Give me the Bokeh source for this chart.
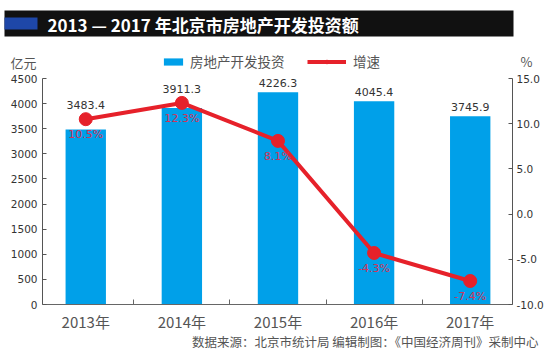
from bokeh.plotting import figure
from bokeh.models import (Range1d, LinearAxis, FixedTicker, Label, LabelSet, Legend,
                          LegendItem, ColumnDataSource, NumeralTickFormatter, BoxAnnotation)
from bokeh.core.properties import value
from bokeh.embed import file_html
from bokeh.resources import INLINE

# ---- data ----
years = ["2013年", "2014年", "2015年", "2016年", "2017年"]
investment = [3483.4, 3911.3, 4226.3, 4045.4, 3745.9]      # 亿元
growth = [10.5, 12.3, 8.1, -4.3, -7.4]                      # %
left_ticks = [0, 500, 1000, 1500, 2000, 2500, 3000, 3500, 4000, 4500]
right_ticks = [-10, -5, 0, 5, 10, 15]

title_text = "2013 — 2017 年北京市房地产开发投资额"
bar_name = "房地产开发投资"
line_name = "增速"
left_unit = "亿元"
right_unit = "%"
footer_text = "数据来源：北京市统计局 编辑制图：《中国经济周刊》采制中心"

# ---- styles / layout (pixels) ----
W, H = 550, 363
AX_L, AX_R = 42, 512          # x pixel of left / right axis
AX_T, AX_B = 78, 304          # y pixel (from top) of axis top / bottom
PAD_X = 0.45                  # category padding at each side
PAD_X2 = 0.44

BLUE = "#00a0e9"
RED = "#e6212a"
PCT_COLOR = "#d0345a"
CJK = "Noto Sans CJK SC"
NUM = "DejaVu Sans"

L_MIN, L_MAX = left_ticks[0], left_ticks[-1]
R_MIN, R_MAX = right_ticks[0], right_ticks[-1]
n = len(years)

# data-per-pixel scales so that the frame can cover the whole canvas
kx = ((n - 1 + PAD_X2) - (-PAD_X)) / (AX_R - AX_L)
ky = (L_MAX - L_MIN) / (AX_B - AX_T)
kr = (R_MAX - R_MIN) / (AX_B - AX_T)
x_rng = Range1d(-PAD_X - AX_L * kx, (n - 1 + PAD_X2) + (W - AX_R) * kx)
y_rng = Range1d(L_MIN - (H - AX_B) * ky, L_MAX + AX_T * ky)
r_rng = Range1d(R_MIN - (H - AX_B) * kr, R_MAX + AX_T * kr)

xs = list(range(n))
conv = [(g - R_MIN) / (R_MAX - R_MIN) * (L_MAX - L_MIN) + L_MIN for g in growth]
label_y = [max(v, c + 100) for v, c in zip(investment, conv)]

src = ColumnDataSource(dict(
    x=xs, inv=investment, gr=growth, ly=label_y,
    inv_txt=[f"{v:.1f}" for v in investment],
    gr_txt=[f"{g:.1f}%" for g in growth],
))

p = figure(width=W, height=H, output_backend="svg", toolbar_location=None,
           x_range=x_rng, y_range=y_rng,
           min_border_left=0, min_border_right=0, min_border_top=0, min_border_bottom=0)
p.extra_y_ranges = {"pct": r_rng}
p.outline_line_color = None
p.grid.visible = False
p.background_fill_color = "white"
p.border_fill_color = "white"

bars = p.vbar(x="x", top="inv", width=0.42, fill_color=BLUE, line_color=None, source=src)
line = p.line(x="x", y="gr", y_range_name="pct", line_color=RED, line_width=4, source=src)
dots = p.scatter(x="x", y="gr", y_range_name="pct", size=13, fill_color=RED,
                 line_color=RED, source=src)

# value labels
p.add_layout(LabelSet(x="x", y="ly", text="inv_txt", source=src, text_align="center",
                      text_baseline="bottom", y_offset=5, text_font=value(NUM),
                      text_font_size="11px", text_color="#333333"))
p.add_layout(LabelSet(x="x", y="gr", y_range_name="pct", text="gr_txt", source=src,
                      text_align="center", text_baseline="top", y_offset=-9,
                      text_font=value(NUM), text_font_size="11px", text_color=PCT_COLOR))

# axes (drawn at fixed data locations inside the full-canvas frame)
ya = p.yaxis[0]
ya.fixed_location = -PAD_X
ya.bounds = (L_MIN, L_MAX)
ya.ticker = FixedTicker(ticks=left_ticks)
ya.axis_line_color = "#555555"
ya.major_tick_line_color = "#555555"
ya.major_tick_in = 4
ya.major_tick_out = 0
ya.minor_tick_line_color = None
ya.major_label_standoff = 5
ya.major_label_text_font = NUM
ya.major_label_text_font_size = "10.5px"
ya.major_label_text_color = "#333333"

ra = LinearAxis(y_range_name="pct", ticker=FixedTicker(ticks=right_ticks),
                formatter=NumeralTickFormatter(format="0.0"))
ra.fixed_location = n - 1 + PAD_X2
ra.bounds = (R_MIN, R_MAX)
ra.axis_line_color = "#555555"
ra.major_tick_line_color = "#555555"
ra.major_tick_in = 4
ra.major_tick_out = 0
ra.minor_tick_line_color = None
ra.major_label_standoff = 4
ra.major_label_text_font = NUM
ra.major_label_text_font_size = "10.5px"
ra.major_label_text_color = "#333333"
p.add_layout(ra, "right")

xa = p.xaxis[0]
xa.fixed_location = L_MIN
xa.bounds = (-PAD_X, n - 1 + PAD_X2)
xa.ticker = FixedTicker(ticks=xs, minor_ticks=[i + 0.5 for i in xs[:-1]])
xa.major_label_overrides = {i: years[i] for i in xs}
xa.axis_line_color = "#666666"
xa.major_tick_line_color = None
xa.minor_tick_line_color = "#666666"
xa.minor_tick_in = 5
xa.minor_tick_out = 0
xa.major_label_standoff = 0
xa.major_label_text_font = CJK
xa.major_label_text_font_size = "15px"
xa.major_label_text_color = "#555555"

# legends
lg1 = Legend(items=[LegendItem(label=bar_name, renderers=[bars])], location=(161, H - 71),
             orientation="horizontal", glyph_width=24, glyph_height=9, label_standoff=5,
             padding=0, margin=0, border_line_color=None, background_fill_alpha=0,
             label_text_font=CJK, label_text_font_size="13.5px", label_text_color="#555555")
lg2 = Legend(items=[LegendItem(label=line_name, renderers=[line, dots])], location=(307, H - 71),
             orientation="horizontal", glyph_width=39, glyph_height=9, label_standoff=7,
             padding=0, margin=0, border_line_color=None, background_fill_alpha=0,
             label_text_font=CJK, label_text_font_size="13.5px", label_text_color="#555555")
p.add_layout(lg1)
p.add_layout(lg2)

# title bar
p.add_layout(BoxAnnotation(left=4, right=513, top=H - 10, bottom=H - 36,
                           left_units="screen", right_units="screen",
                           top_units="screen", bottom_units="screen",
                           fill_color="#111111", fill_alpha=1, line_color=None))
p.add_layout(BoxAnnotation(left=4, right=37, top=H - 17, bottom=H - 29,
                           left_units="screen", right_units="screen",
                           top_units="screen", bottom_units="screen",
                           fill_color="#1e47a8", fill_alpha=1, line_color=None))
p.add_layout(Label(x=47, y=H - 23.5, x_units="screen", y_units="screen", text=title_text,
                   text_baseline="middle", text_font=CJK, text_font_size="17px",
                   text_font_style="bold", text_color="white"))

# unit labels and footer
p.add_layout(Label(x=10, y=H - 62, x_units="screen", y_units="screen", text=left_unit,
                   text_baseline="middle", text_font=CJK, text_font_size="13px",
                   text_color="#555555"))
p.add_layout(Label(x=526, y=H - 61, x_units="screen", y_units="screen", text=right_unit,
                   text_align="center", text_baseline="middle", text_font=CJK,
                   text_font_size="13px", text_color="#555555"))
p.add_layout(Label(x=538, y=H - 341, x_units="screen", y_units="screen", text=footer_text,
                   text_align="right", text_baseline="middle", text_font=CJK,
                   text_font_size="12.5px", text_color="#555555"))

open("out.html", "w").write(file_html(p, INLINE))
